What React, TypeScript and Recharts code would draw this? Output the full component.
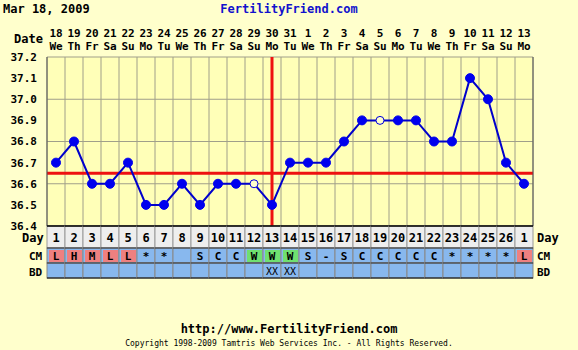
import { CartesianGrid, ComposedChart, Line, ReferenceLine, XAxis, YAxis } from "recharts";

const dates = [18, 19, 20, 21, 22, 23, 24, 25, 26, 27, 28, 29, 30, 31, 1, 2, 3, 4, 5, 6, 7, 8, 9, 10, 11, 12, 13];
const weekdays = ["We", "Th", "Fr", "Sa", "Su", "Mo", "Tu", "We", "Th", "Fr", "Sa", "Su", "Mo", "Tu",
    "We", "Th", "Fr", "Sa", "Su", "Mo", "Tu", "We", "Th", "Fr", "Sa", "Su", "Mo"];
const cycleDays = [1, 2, 3, 4, 5, 6, 7, 8, 9, 10, 11, 12, 13, 14, 15, 16, 17, 18, 19, 20, 21, 22, 23, 24, 25, 26, 1];
const temps = [36.7, 36.8, 36.6, 36.6, 36.7, 36.5, 36.5, 36.6, 36.5, 36.6, 36.6, 36.6, 36.5, 36.7,
    36.7, 36.7, 36.8, 36.9, 36.9, 36.9, 36.9, 36.8, 36.8, 37.1, 37.0, 36.7, 36.6];
const openPoints = [12, 19];
const cm = ["L", "H", "M", "L", "L", "*", "*", "", "S", "C", "C", "W", "W", "W", "S", "-", "S",
    "C", "C", "C", "C", "C", "*", "*", "*", "*", "L"];
const bd = ["", "", "", "", "", "", "", "", "", "", "", "", "XX", "XX", "", "", "", "", "", "", "", "", "", "", "", "", ""];
const tempTicks = [36.4, 36.5, 36.6, 36.7, 36.8, 36.9, 37.0, 37.1, 37.2];
const coverline = 36.65;
const ovulationDay = 13;

const data = temps.map((t, i) => ({
    idx: i + 1,
    temp: t,
    open: openPoints.includes(i + 1),
}));

const FONT = "'DejaVu Sans Mono', monospace";
const COL = 18;
const DAY_H = 22;
const CM_H = 15;
const BD_H = 15;

const cmColor = (v: string) => {
    if (v === "L" || v === "H" || v === "M") return "#EE8080";
    if (v === "W") return "#70E070";
    return null;
};

const TopTick = (props: any) => {
    const { x, y, payload } = props;
    const i = payload.value - 1;
    return (
        <g fontFamily={FONT} fontWeight="bold" fontSize={11} fill="#000">
            <text x={x} y={y - 20} textAnchor="middle">{dates[i]}</text>
            <text x={x} y={y - 7} textAnchor="middle">{weekdays[i]}</text>
        </g>
    );
};

const TableTick = (props: any) => {
    const { x, y, payload } = props;
    const i = payload.value - 1;
    const left = x - COL / 2;
    const top = y;
    const c = cmColor(cm[i]);
    return (
        <g fontFamily={FONT} fontWeight="bold" fontSize={11}>
            <rect x={left} y={top} width={COL} height={DAY_H} fill="#EEEEEE" stroke="#999" strokeWidth={1} />
            <rect x={left} y={top + DAY_H} width={COL} height={CM_H} fill="#88B8EE" stroke="#888" strokeWidth={1} />
            {c && <rect x={left + 2} y={top + DAY_H + 2} width={COL - 3} height={CM_H - 3} fill={c} />}
            <rect x={left} y={top + DAY_H + CM_H} width={COL} height={BD_H} fill="#88B8EE" stroke="#888" strokeWidth={1} />
            <line x1={left} x2={left + COL} y1={top} y2={top} stroke="#000" strokeWidth={1.5} />
            <line x1={left} x2={left + COL} y1={top + DAY_H} y2={top + DAY_H} stroke="#333" />
            <line x1={left} x2={left + COL} y1={top + DAY_H + CM_H} y2={top + DAY_H + CM_H} stroke="#333" />
            <line x1={left} x2={left + COL} y1={top + DAY_H + CM_H + BD_H} y2={top + DAY_H + CM_H + BD_H} stroke="#000" />
            <text x={x} y={top + 16} textAnchor="middle" fill="#000" fontSize={12}>{cycleDays[i]}</text>
            <text x={x} y={top + DAY_H + 12} textAnchor="middle" fill="#000">{cm[i]}</text>
            <text x={x} y={top + DAY_H + CM_H + 12} textAnchor="middle" fill="#000" fontWeight="normal" fontSize={10}>{bd[i]}</text>
        </g>
    );
};

const Dot = (props: any) => {
    const { cx, cy, payload } = props;
    if (payload.open) {
        return <circle key={payload.idx} cx={cx} cy={cy} r={4} fill="#FFFFCC" stroke="#0000DD" strokeWidth={1} />;
    }
    return <circle key={payload.idx} cx={cx} cy={cy} r={4.5} fill="#0000EE" stroke="#0000EE" />;
};

const label = (text: string, style: React.CSSProperties) => (
    <div style={{ position: "absolute", fontFamily: FONT, fontWeight: "bold", fontSize: 11, lineHeight: "13px", ...style }}>{text}</div>
);

export default function App() {
    const boundaries = Array.from({ length: 28 }, (_, k) => k + 0.5);
    return (
        <div style={{ position: "absolute", left: 0, top: 0, width: 578, height: 350, background: "#FFFFCC" }}>
            <ComposedChart width={578} height={350} data={data} margin={{ top: 0, right: 0, bottom: 0, left: 0 }}>
                <CartesianGrid yAxisId="l" xAxisId="b" vertical={false} stroke="#A09F8A" fill="#FFFFB8" fillOpacity={1} />
                {boundaries.map((b) => (
                    <ReferenceLine key={b} x={b} xAxisId="b" yAxisId="l" stroke="#A09F8A" />
                ))}
                <XAxis xAxisId="t" orientation="top" type="number" dataKey="idx" domain={[0.5, 27.5]}
                    ticks={cycleDays.map((_, i) => i + 1)} height={57} axisLine={false} tickLine={false}
                    tickSize={0} tickMargin={0} tick={<TopTick />} interval={0} />
                <XAxis xAxisId="b" type="number" dataKey="idx" domain={[0.5, 27.5]}
                    ticks={cycleDays.map((_, i) => i + 1)} height={124} axisLine={false} tickLine={false}
                    tickSize={0} tickMargin={0} tick={<TableTick />} interval={0} />
                <YAxis yAxisId="l" domain={[36.4, 37.2]} ticks={tempTicks} width={47} tickLine={false}
                    tickMargin={4} axisLine={{ stroke: "#555" }} tickFormatter={(v) => v.toFixed(1)}
                    tick={{ fontFamily: FONT, fontWeight: "bold", fontSize: 11, fill: "#000" }} />
                <YAxis yAxisId="r" orientation="right" domain={[36.4, 37.2]} ticks={tempTicks} width={45}
                    tickLine={false} tickMargin={4} axisLine={{ stroke: "#555" }} tickFormatter={(v) => v.toFixed(1)}
                    tick={{ fontFamily: FONT, fontWeight: "bold", fontSize: 11, fill: "#000", textAnchor: "start" }} />
                <ReferenceLine x={ovulationDay} xAxisId="b" yAxisId="l" stroke="#EE1111" strokeWidth={3} />
                <ReferenceLine y={coverline} xAxisId="b" yAxisId="l" stroke="#EE1111" strokeWidth={3} />
                <Line xAxisId="b" yAxisId="l" dataKey="temp" stroke="#0000CC" strokeWidth={2}
                    dot={<Dot />} activeDot={false} isAnimationActive={false} />
            </ComposedChart>
            {label("Mar 18, 2009", { left: 3, top: 3, fontSize: 12 })}
            {label("FertilityFriend.com", { left: 0, width: 578, top: 3, textAlign: "center", color: "#1111CC", fontSize: 12 })}
            {label("Date", { left: 14, top: 33, fontSize: 12 })}
            {label("Day", { left: 22, top: 232, fontSize: 12 })}
            {label("CM", { left: 29, top: 250 })}
            {label("BD", { left: 29, top: 266 })}
            {label("Day", { left: 537, top: 232, fontSize: 12 })}
            {label("CM", { left: 537, top: 250 })}
            {label("BD", { left: 537, top: 266 })}
            {label("http://www.FertilityFriend.com", { left: 0, width: 578, top: 323, textAlign: "center", fontSize: 12 })}
            {label("Copyright 1998-2009 Tamtris Web Services Inc. - All Rights Reserved.", { left: 0, width: 578, top: 339, textAlign: "center", fontSize: 8, fontWeight: "normal", lineHeight: "10px" })}
        </div>
    );
}
